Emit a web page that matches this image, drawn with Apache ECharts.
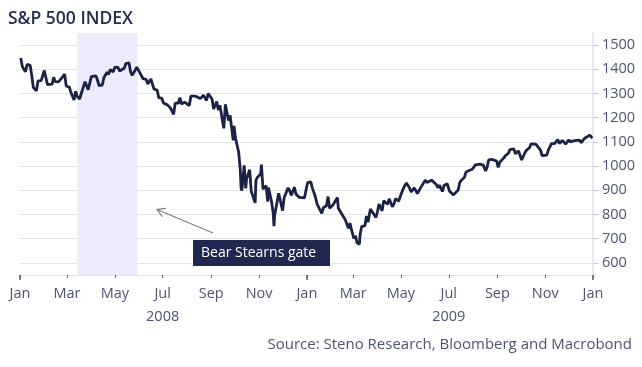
<!DOCTYPE html>
<html><head><meta charset="utf-8">
<script src="https://cdn.jsdelivr.net/npm/echarts@6/dist/echarts.min.js"></script>
<style>html,body{margin:0;padding:0;background:#fff}#c{width:642px;height:367px}</style>
</head><body><div id="c"></div>
<script>
const dates2008 = ['2008-01-02','2008-01-04','2008-01-08','2008-01-10','2008-01-14','2008-01-16','2008-01-18','2008-01-22','2008-01-24','2008-01-28','2008-01-30','2008-02-01','2008-02-05','2008-02-07','2008-02-11','2008-02-13','2008-02-15','2008-02-19','2008-02-21','2008-02-25','2008-02-27','2008-02-29','2008-03-04','2008-03-06','2008-03-10','2008-03-12','2008-03-14','2008-03-17','2008-03-19','2008-03-24','2008-03-26','2008-03-28','2008-04-01','2008-04-03','2008-04-07','2008-04-09','2008-04-11','2008-04-15','2008-04-17','2008-04-21','2008-04-23','2008-04-25','2008-04-29','2008-05-01','2008-05-05','2008-05-07','2008-05-09','2008-05-13','2008-05-15','2008-05-19','2008-05-21','2008-05-23','2008-05-27','2008-05-29','2008-06-02','2008-06-04','2008-06-06','2008-06-10','2008-06-12','2008-06-16','2008-06-18','2008-06-20','2008-06-24','2008-06-26','2008-06-30','2008-07-02','2008-07-07','2008-07-09','2008-07-11','2008-07-15','2008-07-17','2008-07-21','2008-07-23','2008-07-25','2008-07-29','2008-07-31','2008-08-04','2008-08-06','2008-08-08','2008-08-12','2008-08-14','2008-08-18','2008-08-20','2008-08-22','2008-08-26','2008-08-28','2008-09-02','2008-09-04','2008-09-08','2008-09-10','2008-09-12','2008-09-15','2008-09-17','2008-09-19','2008-09-23','2008-09-25','2008-09-29','2008-09-30','2008-10-02','2008-10-06','2008-10-08','2008-10-09','2008-10-10','2008-10-13','2008-10-15','2008-10-16','2008-10-20','2008-10-22','2008-10-24','2008-10-27','2008-10-28','2008-10-30','2008-11-03','2008-11-04','2008-11-06','2008-11-10','2008-11-12','2008-11-13','2008-11-17','2008-11-19','2008-11-20','2008-11-21','2008-11-24','2008-11-26','2008-11-28','2008-12-01','2008-12-03','2008-12-05','2008-12-08','2008-12-10','2008-12-12','2008-12-16','2008-12-18','2008-12-22','2008-12-24','2008-12-29','2008-12-31'];
const values2008 = [1447,1411,1390,1420,1416,1374,1325,1311,1352,1353,1355,1395,1337,1336,1339,1367,1349,1348,1343,1371,1380,1331,1326,1304,1273,1309,1288,1277,1298,1349,1341,1316,1370,1370,1373,1354,1332,1335,1365,1388,1379,1398,1390,1409,1408,1393,1388,1404,1424,1427,1391,1375,1396,1409,1385,1377,1361,1358,1339,1360,1338,1318,1314,1283,1280,1261,1253,1245,1240,1214,1260,1260,1283,1257,1264,1267,1250,1289,1296,1289,1292,1279,1275,1293,1271,1300,1277,1236,1267,1232,1252,1193,1156,1255,1188,1210,1106,1166,1114,1057,985,910,899,1003,908,946,985,896,877,848,941,954,967,1006,905,919,853,911,851,806,752,800,852,888,896,816,870,876,910,899,879,913,885,871,868,869,903];
const dates2009 = ['2009-01-02','2009-01-06','2009-01-08','2009-01-12','2009-01-14','2009-01-16','2009-01-20','2009-01-22','2009-01-26','2009-01-28','2009-01-30','2009-02-03','2009-02-05','2009-02-09','2009-02-10','2009-02-12','2009-02-17','2009-02-19','2009-02-20','2009-02-23','2009-02-25','2009-02-27','2009-03-02','2009-03-04','2009-03-06','2009-03-09','2009-03-10','2009-03-12','2009-03-16','2009-03-18','2009-03-20','2009-03-23','2009-03-25','2009-03-27','2009-03-30','2009-04-01','2009-04-03','2009-04-07','2009-04-09','2009-04-14','2009-04-16','2009-04-20','2009-04-22','2009-04-24','2009-04-28','2009-04-30','2009-05-04','2009-05-06','2009-05-08','2009-05-12','2009-05-14','2009-05-18','2009-05-20','2009-05-22','2009-05-26','2009-05-28','2009-06-01','2009-06-03','2009-06-05','2009-06-09','2009-06-11','2009-06-15','2009-06-17','2009-06-19','2009-06-23','2009-06-25','2009-06-29','2009-07-01','2009-07-02','2009-07-07','2009-07-09','2009-07-13','2009-07-15','2009-07-17','2009-07-21','2009-07-23','2009-07-27','2009-07-29','2009-07-31','2009-08-04','2009-08-06','2009-08-10','2009-08-12','2009-08-14','2009-08-17','2009-08-19','2009-08-21','2009-08-25','2009-08-27','2009-08-31','2009-09-02','2009-09-04','2009-09-09','2009-09-11','2009-09-15','2009-09-17','2009-09-22','2009-09-24','2009-09-28','2009-09-30','2009-10-02','2009-10-06','2009-10-08','2009-10-12','2009-10-14','2009-10-16','2009-10-20','2009-10-22','2009-10-26','2009-10-28','2009-10-30','2009-11-03','2009-11-05','2009-11-09','2009-11-11','2009-11-13','2009-11-17','2009-11-19','2009-11-23','2009-11-25','2009-11-27','2009-12-01','2009-12-03','2009-12-07','2009-12-09','2009-12-11','2009-12-15','2009-12-17','2009-12-21','2009-12-23','2009-12-28','2009-12-30','2009-12-31'];
const values2009 = [932,935,909,871,843,850,805,828,836,874,826,838,845,870,827,835,789,778,770,743,764,735,700,712,683,677,720,751,753,794,768,823,813,816,788,811,843,815,857,842,865,832,843,866,855,873,907,920,930,909,893,910,903,887,910,906,942,932,940,942,944,924,911,921,895,920,927,923,896,881,882,901,932,941,954,976,982,975,987,1005,997,1008,1005,1004,980,996,1026,1028,1030,1021,995,1016,1033,1042,1053,1068,1071,1051,1063,1057,1025,1054,1065,1076,1092,1087,1091,1092,1066,1043,1036,1045,1066,1093,1099,1093,1110,1094,1106,1110,1091,1109,1100,1104,1096,1106,1107,1097,1114,1120,1128,1126,1115];
const monthTicks = ['2008-01-01','2008-03-01','2008-05-01','2008-07-01','2008-09-01','2008-11-01','2009-01-01','2009-03-01','2009-05-01','2009-07-01','2009-09-01','2009-11-01','2010-01-01'];
const yearTicks = ['2008-01-01','2009-01-01','2010-01-01'];
const yearLabelDates = ['2008-07-01','2009-07-01'];
const yTicks = [600,700,800,900,1000,1100,1200,1300,1400,1500];
const monthNames = ['Jan','Feb','Mar','Apr','May','Jun','Jul','Aug','Sep','Oct','Nov','Dec'];
const bandStart = '2008-03-14', bandEnd = '2008-05-30';
const titleText = 'S&P 500 INDEX';
const sourceText = 'Source: Steno Research, Bloomberg and Macrobond';
const annotationText = 'Bear Stearns gate';

function t(s){const p=s.split('-');return new Date(+p[0],+p[1]-1,+p[2]).getTime();}
const allDates = dates2008.concat(dates2009);
const allValues = values2008.concat(values2009);
const seriesData = allDates.map((d,i)=>[t(d),allValues[i]]);

const FONT = '"Open Sans", "Noto Sans", sans-serif';
const labelColor = '#4e5374';
const chart = echarts.init(document.getElementById('c'), null, {renderer:'canvas'});
chart.setOption({
  animation:false,
  backgroundColor:'#fff',
  title:[
    {text:titleText,left:8,top:10,padding:0,textStyle:{fontFamily:FONT,fontSize:17.5,fontWeight:600,color:'#262c4d'}},
    {text:sourceText,right:10,top:337,padding:0,textStyle:{fontFamily:FONT,fontSize:15,fontWeight:'normal',color:labelColor}}
  ],
  grid:{left:20,right:49,top:33,bottom:92,containLabel:false,outerBoundsMode:'none'},
  xAxis:[
    {type:'value',min:t('2008-01-01'),max:t('2010-01-01'),
     axisLine:{show:true,lineStyle:{color:'#e3e3ea',width:1}},
     axisTick:{show:true,customValues:monthTicks.map(t),length:3,lineStyle:{color:'#5a5e78',width:1}},
     axisLabel:{customValues:monthTicks.map(t),margin:11,fontFamily:FONT,fontSize:14.5,color:labelColor,
       formatter:v=>monthNames[new Date(v).getMonth()]},
     splitLine:{show:false}},
    {type:'value',min:t('2008-01-01'),max:t('2010-01-01'),position:'bottom',
     axisLine:{show:false},
     axisTick:{show:true,customValues:yearTicks.map(t),length:5,lineStyle:{color:'#5a5e78',width:1.5}},
     axisLabel:{customValues:yearLabelDates.map(t),margin:34,fontFamily:FONT,fontSize:14.5,color:labelColor,
       formatter:v=>String(new Date(v).getFullYear())},
     splitLine:{show:false}}
  ],
  yAxis:{type:'value',position:'right',min:550,max:1550,
    axisLine:{show:true,lineStyle:{color:'#e3e3ea',width:1.5}},
    axisTick:{show:true,customValues:yTicks,length:5,lineStyle:{color:'#c9cad6'}},
    axisLabel:{customValues:yTicks,margin:9,fontFamily:FONT,fontSize:14.5,color:labelColor,formatter:v=>String(v)},
    splitLine:{show:true,lineStyle:{color:'#e3e3ea',width:1.2}}},
  series:[{type:'line',xAxisIndex:0,data:seriesData,showSymbol:false,symbol:'none',
    lineStyle:{color:'#1c2244',width:2.8},z:3,
    markArea:{silent:true,itemStyle:{color:'#eceafb'},data:[[{xAxis:t(bandStart)},{xAxis:t(bandEnd)}]]}}],
  graphic:[
    {type:'line',shape:{x1:213,y1:233,x2:157,y2:209.5},style:{stroke:'#7c7c84',lineWidth:1.2},z:10},
    {type:'polyline',shape:{points:[[162.4,216.7],[157,209.5],[165.9,208.4]]},style:{stroke:'#7c7c84',lineWidth:1.2,fill:null},z:10},
    {type:'rect',shape:{x:193,y:240,width:137,height:26},style:{fill:'#1e2850'},z:10},
    {type:'text',x:201,y:253,style:{text:annotationText,fill:'#fff',font:'14px '+FONT,verticalAlign:'middle'},z:11}
  ]
});
</script></body></html>
